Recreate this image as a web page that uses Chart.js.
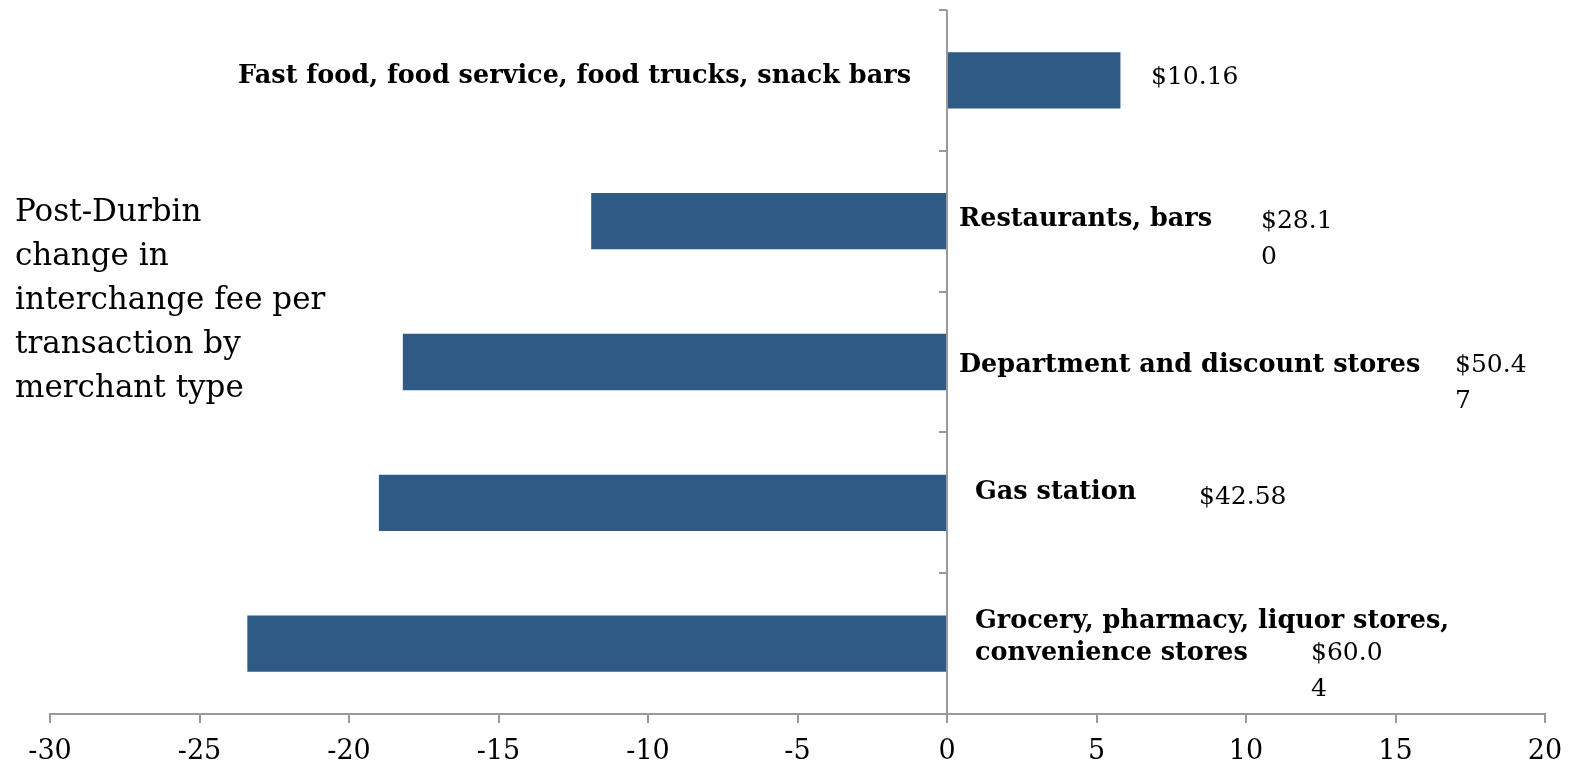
<!DOCTYPE html>
<html>
<head>
<meta charset="utf-8">
<script src="https://cdn.jsdelivr.net/npm/chart.js@4"></script>
<style>
  html, body { margin: 0; padding: 0; background: #fff; }
</style>
</head>
<body>
<canvas id="chart" width="1572" height="762"></canvas>
<script>
// data
const categories = [
  ['Fast food, food service, food trucks, snack bars'],
  ['Restaurants, bars'],
  ['Department and discount stores'],
  ['Gas station'],
  ['Grocery, pharmacy, liquor stores,', 'convenience stores']
];
const feeChange = [5.8, -11.9, -18.2, -19.0, -23.4];
// fee labels, wrapped as in the original
const feeLabels = [['$10.16'], ['$28.1', '0'], ['$50.4', '7'], ['$42.58'], ['$60.0', '4']];
const xMin = -30, xMax = 20, xStep = 5;
const titleLines = ['Post-Durbin', 'change in', 'interchange fee per', 'transaction by', 'merchant type'];

// label placement, px relative to the zero line and the category centre
const catLabelPos = [
  { dx: -36, dy: -4, align: 'right' },
  { dx: 12, dy: -2, align: 'left' },
  { dx: 12, dy: 3, align: 'left' },
  { dx: 28, dy: -10, align: 'left' },
  { dx: 28, dy: -22, align: 'left' }
];
const feeLabelPos = [
  { dx: 204, dy: -3 },
  { dx: 314, dy: 0 },
  { dx: 508, dy: 3 },
  { dx: 252, dy: -5 },
  { dx: 364, dy: 10 }
];

const axisColor = '#999999';
const barColor = '#2f5a86';
const serif = "'DejaVu Serif', serif";

const labelsPlugin = {
  id: 'labels',
  afterDatasetsDraw(chart) {
    const ctx = chart.ctx;
    const xs = chart.scales.x, ys = chart.scales.y;
    const area = chart.chartArea;
    const x0 = xs.getPixelForValue(0);

    ctx.save();
    // vertical axis at zero with ticks between categories
    ctx.strokeStyle = axisColor;
    ctx.lineWidth = 2;
    ctx.beginPath();
    ctx.moveTo(x0, area.top);
    ctx.lineTo(x0, area.bottom);
    for (let i = 0; i <= categories.length; i++) {
      const yy = Math.round(ys.getPixelForValue(i - 0.5));
      ctx.moveTo(x0 - 8, yy);
      ctx.lineTo(x0, yy);
    }
    ctx.stroke();

    ctx.fillStyle = '#000';
    ctx.textBaseline = 'middle';

    // category labels
    ctx.font = 'bold 25.5px ' + serif;
    categories.forEach((lines, i) => {
      const p = catLabelPos[i];
      const cy = ys.getPixelForValue(i);
      ctx.textAlign = p.align;
      lines.forEach((t, k) => ctx.fillText(t, x0 + p.dx, cy + p.dy + k * 32));
    });

    // fee labels
    ctx.font = '25px ' + serif;
    ctx.textAlign = 'left';
    feeLabels.forEach((lines, i) => {
      const p = feeLabelPos[i];
      const cy = ys.getPixelForValue(i);
      lines.forEach((t, k) => ctx.fillText(t, x0 + p.dx, cy + p.dy + k * 36));
    });

    // title on the left
    ctx.font = '31px ' + serif;
    titleLines.forEach((t, k) => ctx.fillText(t, 15, 213 + k * 44));
    ctx.restore();
  }
};

new Chart(document.getElementById('chart'), {
  type: 'bar',
  data: {
    labels: categories.map(c => c.join(' ')),
    datasets: [{
      data: feeChange,
      backgroundColor: barColor,
      barPercentage: 0.4,
      categoryPercentage: 1
    }]
  },
  options: {
    indexAxis: 'y',
    responsive: false,
    animation: false,
    devicePixelRatio: 1,
    layout: { padding: { left: 50, right: 27, top: 10, bottom: 0 } },
    plugins: { legend: { display: false }, tooltip: { enabled: false } },
    scales: {
      x: {
        min: xMin,
        max: xMax,
        afterFit(scale) {
          scale.height = 48;
          scale.paddingLeft = 0;
          scale.paddingRight = 0;
        },
        ticks: { stepSize: xStep, color: '#000', padding: 13, font: { family: serif, size: 27 } },
        grid: { drawOnChartArea: false, tickLength: 9, color: axisColor, lineWidth: 2 },
        border: { color: axisColor, width: 2 }
      },
      y: { display: false }
    }
  },
  plugins: [labelsPlugin]
});
</script>
</body>
</html>
